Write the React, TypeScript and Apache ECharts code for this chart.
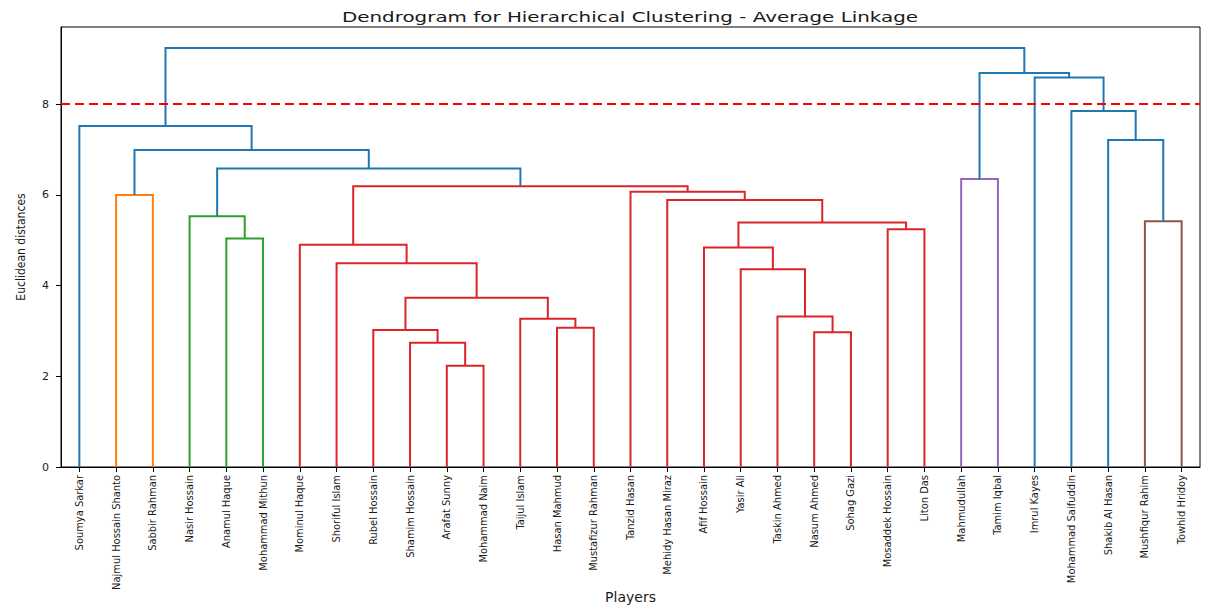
import { useEffect, useRef } from "react";
import * as echarts from "echarts";

// Leaf order along the x axis
const players = [
  "Soumya Sarkar",
  "Najmul Hossain Shanto",
  "Sabbir Rahman",
  "Nasir Hossain",
  "Anamul Haque",
  "Mohammad Mithun",
  "Mominul Haque",
  "Shoriful Islam",
  "Rubel Hossain",
  "Shamim Hossain",
  "Arafat Sunny",
  "Mohammad Naim",
  "Taijul Islam",
  "Hasan Mahmud",
  "Mustafizur Rahman",
  "Tanzid Hasan",
  "Mehidy Hasan Miraz",
  "Afif Hossain",
  "Yasir Ali",
  "Taskin Ahmed",
  "Nasum Ahmed",
  "Sohag Gazi",
  "Mosaddek Hossain",
  "Liton Das",
  "Mahmudullah",
  "Tamim Iqbal",
  "Imrul Kayes",
  "Mohammad Saifuddin",
  "Shakib Al Hasan",
  "Mushfiqur Rahim",
  "Towhid Hridoy",
];

// Linkage rows [left, right, distance]; ids below players.length are leaves,
// id players.length + k refers to the cluster formed by row k.
const linkage: [number, number, number][] = [
  [10, 11, 2.23], // 31
  [9, 31, 2.74], // 32
  [8, 32, 3.02], // 33
  [13, 14, 3.07], // 34
  [12, 34, 3.27], // 35
  [33, 35, 3.73], // 36
  [7, 36, 4.49], // 37
  [6, 37, 4.9], // 38
  [20, 21, 2.97], // 39
  [19, 39, 3.32], // 40
  [18, 40, 4.36], // 41
  [17, 41, 4.84], // 42
  [22, 23, 5.24], // 43
  [42, 43, 5.39], // 44
  [16, 44, 5.89], // 45
  [15, 45, 6.07], // 46
  [38, 46, 6.19], // 47
  [4, 5, 5.04], // 48
  [3, 48, 5.53], // 49
  [49, 47, 6.58], // 50
  [1, 2, 6.0], // 51
  [51, 50, 6.99], // 52
  [0, 52, 7.52], // 53
  [29, 30, 5.42], // 54
  [28, 54, 7.21], // 55
  [27, 55, 7.85], // 56
  [26, 56, 8.59], // 57
  [24, 25, 6.35], // 58
  [58, 57, 8.69], // 59
  [53, 59, 9.24], // 60
];

const cutHeight = 8;
const yTicks = [0, 2, 4, 6, 8];

const aboveColor = "#1f77b4";
const clusterPalette = ["#ff7f0e", "#2ca02c", "#dc2429", "#9467bd", "#8c564b", "#e377c2", "#7f7f7f", "#bcbd22", "#17becf"];

type Link = { coords: number[][]; lineStyle: { color: string } };

function buildLinks(): { links: Link[]; span: number; top: number } {
  const n = players.length;
  const xOf = (id: number): number =>
    id < n ? 5 + 10 * id : (xOf(linkage[id - n][0]) + xOf(linkage[id - n][1])) / 2;
  const hOf = (id: number): number => (id < n ? 0 : linkage[id - n][2]);
  const maxH = Math.max(...linkage.map((r) => r[2]));
  const threshold = 0.7 * maxH;
  const colors: string[] = new Array(linkage.length);
  let next = 0;
  const paint = (id: number, inherited: string | null) => {
    if (id < n) return;
    const [l, r, h] = linkage[id - n];
    let c = inherited;
    if (h < threshold && c === null) {
      c = clusterPalette[next % clusterPalette.length];
      next += 1;
    }
    colors[id - n] = h < threshold && c ? c : aboveColor;
    const pass = h < threshold ? c : null;
    paint(l, pass);
    paint(r, pass);
  };
  paint(n + linkage.length - 1, null);
  const links = linkage.map(([l, r, h], k) => ({
    coords: [
      [xOf(l), hOf(l)],
      [xOf(l), h],
      [xOf(r), h],
      [xOf(r), hOf(r)],
    ],
    lineStyle: { color: colors[k] },
  }));
  return { links, span: n * 10, top: maxH * 1.05 };
}

export default function App() {
  const ref = useRef<HTMLDivElement>(null);

  useEffect(() => {
    if (!ref.current) return;
    const chart = echarts.init(ref.current, null, { renderer: "svg" });
    const { links, span, top } = buildLinks();
    const textColor = "#1a1a1a";
    const condensed = '"DejaVu Sans Condensed", "DejaVu Sans", sans-serif';

    chart.setOption({
      animation: false,
      backgroundColor: "#ffffff",
      graphic: [
        {
          type: "text",
          x: 630,
          y: 17,
          scaleX: 1.42,
          silent: true,
          style: {
            text: "Dendrogram for Hierarchical Clustering - Average Linkage",
            fontFamily: "DejaVu Sans",
            fontSize: 14,
            fill: textColor,
            align: "center",
            verticalAlign: "middle",
          },
        },
      ],
      grid: {
        left: 61,
        right: 7,
        top: 27,
        bottom: 143,
        containLabel: false,
        outerBoundsMode: "none",
        show: true,
        borderColor: "#000",
        borderWidth: 1,
        backgroundColor: "transparent",
      },
      xAxis: [
        {
          type: "value",
          min: 0,
          max: span,
          show: false,
        },
        {
          type: "category",
          data: players,
          boundaryGap: true,
          position: "bottom",
          name: "Players",
          nameLocation: "middle",
          nameGap: 123,
          nameMoveOverlap: false,
          nameTextStyle: { fontFamily: "DejaVu Sans", fontSize: 14, color: textColor },
          axisLine: { show: true, lineStyle: { color: "#000", width: 1 } },
          axisTick: { show: true, alignWithLabel: true, length: 5, lineStyle: { color: "#000" } },
          axisLabel: {
            rotate: 90,
            margin: 8,
            interval: 0,
            fontFamily: condensed,
            fontSize: 11,
            color: textColor,
          },
          splitLine: { show: false },
        },
      ],
      yAxis: {
        type: "value",
        min: 0,
        max: top,
        interval: 2,
        name: "Euclidean distances",
        nameLocation: "middle",
        nameGap: 34,
        nameMoveOverlap: false,
        nameTextStyle: { fontFamily: condensed, fontSize: 12, color: textColor },
        axisLine: { show: true, lineStyle: { color: "#000", width: 1 } },
        axisTick: { show: true, length: 5, customValues: yTicks, lineStyle: { color: "#000" } },
        axisLabel: {
          customValues: yTicks,
          margin: 12,
          fontFamily: "DejaVu Sans",
          fontSize: 11,
          color: textColor,
        },
        splitLine: { show: false },
      },
      series: [
        {
          type: "lines",
          coordinateSystem: "cartesian2d",
          xAxisIndex: 0,
          yAxisIndex: 0,
          polyline: true,
          silent: true,
          lineStyle: { width: 2, opacity: 1 },
          data: links,
        },
        {
          type: "lines",
          coordinateSystem: "cartesian2d",
          xAxisIndex: 0,
          yAxisIndex: 0,
          silent: true,
          lineStyle: { color: "#ff0000", width: 2, type: [9, 5], opacity: 1 },
          data: [{ coords: [[0, cutHeight], [span, cutHeight]] }],
        },
      ],
    });

    return () => chart.dispose();
  }, []);

  return (
    <div
      ref={ref}
      style={{ position: "fixed", left: 0, top: 0, width: 1207, height: 610, background: "#fff" }}
    />
  );
}
